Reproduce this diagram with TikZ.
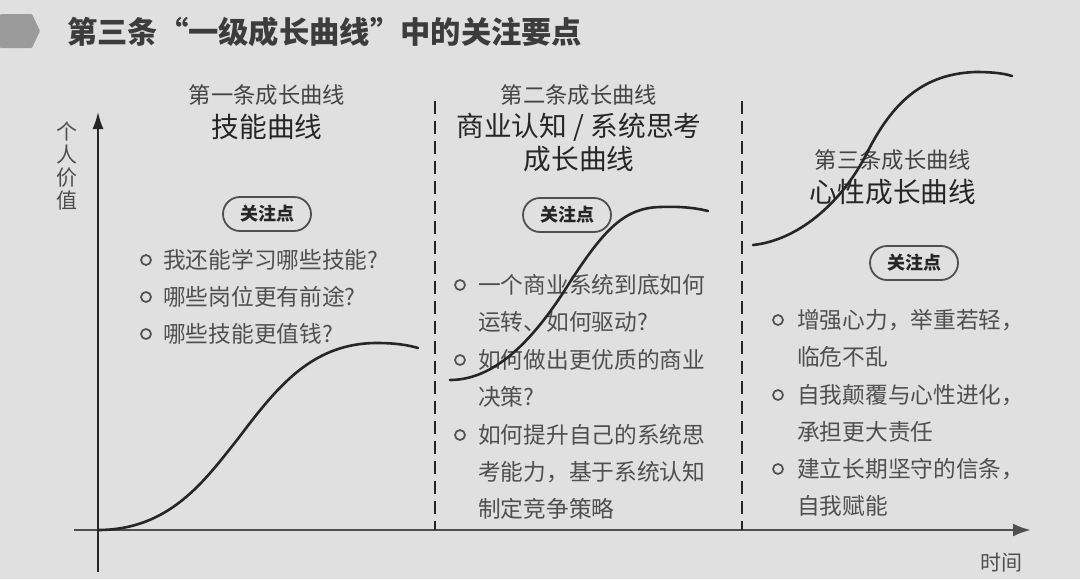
\documentclass[tikz,border=0pt]{standalone}
\usepackage{fontspec}
\setmainfont{Noto Sans CJK SC}
\usetikzlibrary{arrows.meta}
\usepackage{xcolor}

\definecolor{bgc}{HTML}{DFE0DF}
\definecolor{ink}{HTML}{262626}
\definecolor{body}{HTML}{4F4F4F}
\definecolor{tabc}{HTML}{9B9B9B}

\tikzset{
  line/.style={anchor=west, inner sep=0pt, text=body, font=\fontsize{22.7}{26}\selectfont, text height=18.9pt, text depth=1.6pt},
  dot/.style={circle, draw=body, line width=1.7pt, minimum size=10pt, inner sep=0pt},
  pill/.style={draw=body, line width=1.8pt, rounded corners=17pt, minimum width=88pt, minimum height=34pt, inner sep=0pt, text=ink, font=\fontsize{18}{20}\selectfont\bfseries},
  sub/.style={text=body!85!black, font=\fontsize{22.3}{24}\selectfont},
  head/.style={text=ink, font=\fontsize{27.7}{30}\selectfont},
  curve/.style={ink, line width=2.6pt, line cap=round},
}

\begin{document}
\begin{tikzpicture}[x=1pt,y=-1pt,>=Latex]
            % background
            \fill[bgc] (0,0) rectangle (1080,579);
            \useasboundingbox (0,0) rectangle (1080,579);

            % title
            \fill[tabc, rounded corners=1pt] (0,14) -- (32,14) -- (40,31) -- (32,48) -- (0,48) -- cycle;
            \node[anchor=west, inner sep=0pt, text=ink!90, font=\fontsize{30.3}{32}\selectfont\bfseries] (title) at (67,32) {第三条“一级成长曲线”中的关注要点};

            % draw the coordinates
            \coordinate (ybot) at (98,572);
            \coordinate (ytop) at (98,112);
            \coordinate (xleft) at (74,530);
            \coordinate (xright) at (1031,530);
            \draw[ink, line width=1.6pt, -{Latex[length=17pt,width=11pt]}] (ybot) -- (ytop);
            \draw[body, line width=2.8pt, -{Latex[length=18pt,width=13pt]}] (xleft) -- (xright);
            \node[text=body, align=center, inner sep=0pt, font=\fontsize{21}{23}\selectfont] (yname) at (67,166) {个\\人\\价\\值};
            \node[text=body, inner sep=0pt, font=\fontsize{21}{23}\selectfont] (xname) at (1001,563) {时间};

            % dashed borders
            \coordinate (d1top) at (435,101);
            \coordinate (d1bot) at (435,530);
            \coordinate (d2top) at (742,101);
            \coordinate (d2bot) at (742,530);
            \draw[ink, line width=1.6pt, dash pattern=on 13pt off 7pt] (d1top) -- (d1bot);
            \draw[ink, line width=1.6pt, dash pattern=on 13pt off 7pt] (d2top) -- (d2bot);

            % first curve
            \node[sub] (c1sub) at (267,95) {第一条成长曲线};
            \node[head] (c1head) at (267,127) {技能曲线};
            \node[pill] (c1pill) at (267,214) {关注点};
            \node[dot] (b11) at (146,260) {};
            \node[line] (t11) at (163,260) {我还能学习哪些技能?};
            \node[dot] (b12) at (146,297) {};
            \node[line] (t12) at (163,297) {哪些岗位更有前途?};
            \node[dot] (b13) at (146,334) {};
            \node[line] (t13) at (163,334) {哪些技能更值钱?};

            % second curve
            \node[sub] (c2sub) at (579,95) {第二条成长曲线};
            \node[head] (c2head) at (579,127) {商业认知 / 系统思考};
            \node[head] (c2tail) at (579,159) {成长曲线};
            \node[pill] (c2pill) at (567,215) {关注点};
            \node[dot] (b21) at (460,285) {};
            \node[line] (t21) at (478,285) {一个商业系统到底如何};
            \node[line] (t22) at (478,322) {运转、如何驱动?};
            \node[dot] (b22) at (460,360) {};
            \node[line] (t23) at (478,360) {如何做出更优质的商业};
            \node[line] (t24) at (478,397) {决策?};
            \node[dot] (b23) at (460,435) {};
            \node[line] (t25) at (478,435) {如何提升自己的系统思};
            \node[line] (t26) at (478,472) {考能力，基于系统认知};
            \node[line] (t27) at (478,509) {制定竞争策略};

            % third curve
            \node[sub] (c3sub) at (893,160) {第三条成长曲线};
            \node[head] (c3head) at (893,192) {心性成长曲线};
            \node[pill] (c3pill) at (914,263) {关注点};
            \node[dot] (b31) at (778,320) {};
            \node[line] (t31) at (797,320) {增强心力，举重若轻，};
            \node[line] (t32) at (797,357) {临危不乱};
            \node[dot] (b32) at (778,395) {};
            \node[line] (t33) at (797,395) {自我颠覆与心性进化，};
            \node[line] (t34) at (797,432) {承担更大责任};
            \node[dot] (b33) at (778,469) {};
            \node[line] (t35) at (797,469) {建立长期坚守的信条，};
            \node[line] (t36) at (797,506) {自我赋能};

            % the three s-curves
            \draw[curve] (98,530) .. controls (170,530) and (205,480) .. (237,440)
                .. controls (275,390) and (310,343) .. (377,343)
                .. controls (395,343) and (408,345) .. (418,348);
            \draw[curve] (450,380) .. controls (500,380) and (540,330) .. (570,282)
                .. controls (605,228) and (625,208) .. (660,207)
                .. controls (685,206) and (700,209) .. (708,211);
            \draw[curve] (753,245) .. controls (800,240) and (845,200) .. (870,147)
                .. controls (895,100) and (925,74) .. (975,72)
                .. controls (990,72) and (1003,73) .. (1012,76);

        \end{tikzpicture}
\end{document}
